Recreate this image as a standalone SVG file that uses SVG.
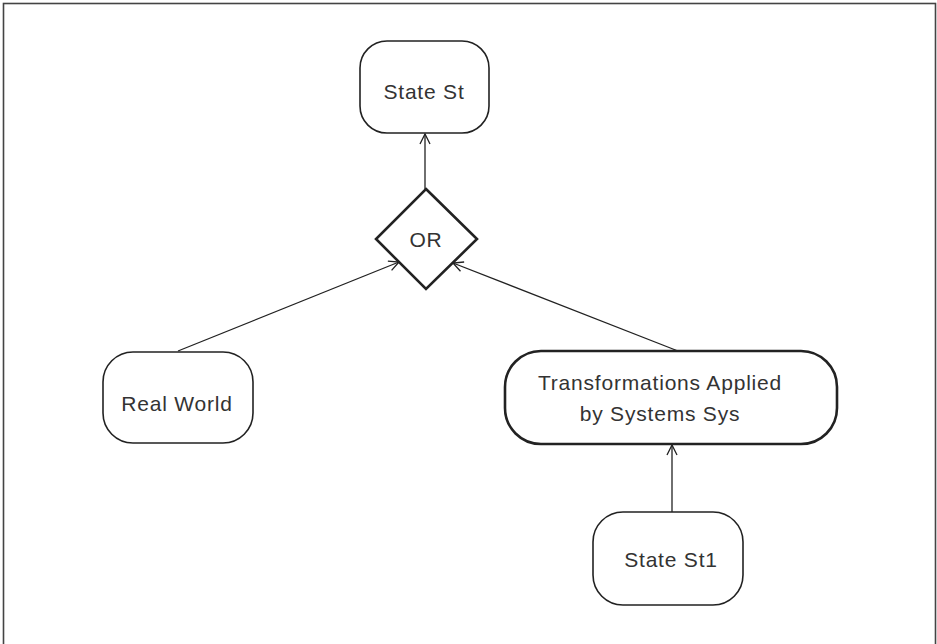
<svg xmlns="http://www.w3.org/2000/svg" width="937" height="644" viewBox="0 0 937 644">
<defs>
<style>
.box{fill:#fff;stroke:#222;stroke-width:1.6}
.thick{stroke-width:2.6}
.lbl{font-family:"Liberation Sans",Arial,sans-serif;font-size:21px;fill:#333;text-anchor:middle;letter-spacing:0.8px}
.conn{stroke:#222;stroke-width:1.3;fill:none}
</style>
<marker id="arr" markerUnits="userSpaceOnUse" markerWidth="14" markerHeight="14" refX="11" refY="6" orient="auto">
<path d="M1,1 L11,6 L1,11" fill="none" stroke="#222" stroke-width="1.3"/>
</marker>
</defs>
<rect x="3.5" y="3.5" width="932" height="660" fill="#fff" stroke="#444" stroke-width="1.6"/>
<g id="connectors">
<line class="conn" x1="425" y1="189" x2="425" y2="134" marker-end="url(#arr)"/>
<line class="conn" x1="178" y1="351" x2="399" y2="262" marker-end="url(#arr)"/>
<line class="conn" x1="678" y1="351" x2="453" y2="263" marker-end="url(#arr)"/>
<line class="conn" x1="672" y1="512" x2="672" y2="445" marker-end="url(#arr)"/>
</g>
<g id="state-st">
<rect class="box" x="360" y="41" width="129" height="92" rx="27"/>
<text class="lbl" x="424" y="99">State St</text>
</g>
<g id="or">
<polygon class="box thick" points="426,189 477,239 426,289 376,239"/>
<text class="lbl" x="426" y="247">OR</text>
</g>
<g id="real-world">
<rect class="box" x="103" y="352" width="150" height="91" rx="30"/>
<text class="lbl" x="177" y="411">Real World</text>
</g>
<g id="transformations">
<rect class="box thick" x="505" y="351" width="332" height="93" rx="36"/>
<text class="lbl" x="660" y="390">Transformations Applied</text>
<text class="lbl" x="660" y="421">by Systems Sys</text>
</g>
<g id="state-st1">
<rect class="box" x="593" y="512" width="150" height="93" rx="30"/>
<text class="lbl" x="671" y="567">State St1</text>
</g>
</svg>
